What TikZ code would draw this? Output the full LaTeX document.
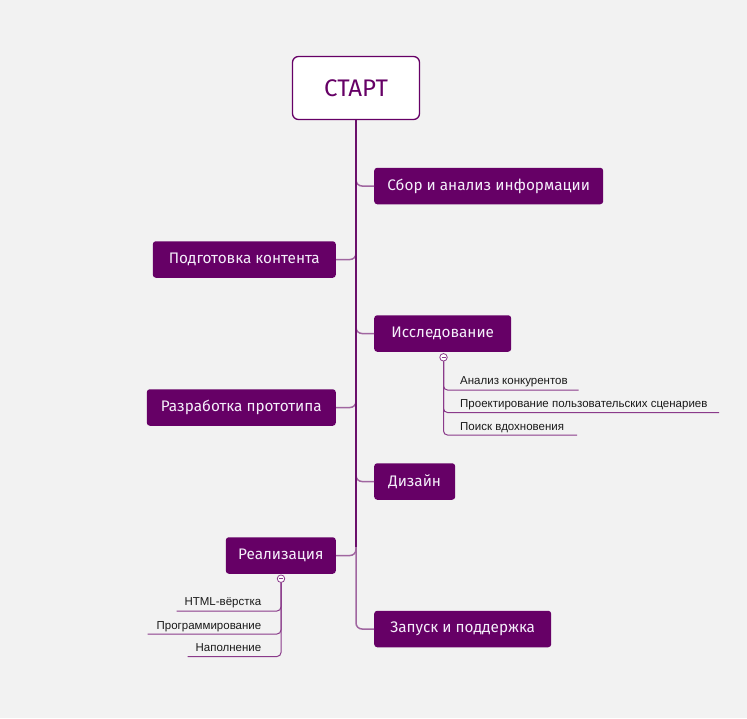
\documentclass[tikz,border=0pt]{standalone}
\usepackage{fontspec}
\setmainfont{Fira Sans}
\newfontfamily\smallfont{Liberation Sans}
\definecolor{bgc}{HTML}{F2F2F2}
\definecolor{nodefill}{HTML}{660066}
\definecolor{trunkc}{HTML}{6B106B}
\definecolor{branchc}{HTML}{A066A0}
\definecolor{subc}{HTML}{8A3A8A}
\definecolor{subtext}{HTML}{1A1A1A}
\definecolor{labeltext}{HTML}{F4EEFA}
\begin{document}
\begin{tikzpicture}[x=1pt,y=-1pt,
  topic/.style={draw=none,fill=nodefill,rounded corners=3pt,text=labeltext,
    font=\fontsize{15.3}{18}\selectfont,minimum height=36.5pt,inner sep=0pt},
  rootbox/.style={draw=nodefill,line width=1.3pt,fill=white,rounded corners=6pt,
    text=nodefill,font=\fontsize{24}{28}\selectfont,minimum width=127pt,minimum height=63pt,inner sep=0pt},
  branch/.style={draw=branchc,line width=1.5pt,rounded corners=6pt},
  trunk/.style={draw=trunkc,line width=2pt},
  subline/.style={draw=subc,line width=1pt,rounded corners=4pt},
  subitem/.style={font=\smallfont\fontsize{11.5}{13}\selectfont,text=subtext,inner sep=0pt},
  toggle/.style={circle,draw=subc,fill=white,line width=0.8pt,minimum size=7.5pt,inner sep=0pt,
    path picture={\draw[subc,line width=0.6pt] ([xshift=-2pt]path picture bounding box.center) -- ([xshift=2pt]path picture bounding box.center);}}
]
\fill[bgc] (0,0) rectangle (747,718);
\useasboundingbox (0,0) rectangle (747,718);

\node[rootbox] (root) at (356,88) {СТАРТ};

\node[topic,anchor=west,minimum width=229pt] (r1) at (374,186) {Сбор и анализ информации};
\node[topic,anchor=west,minimum width=137pt] (r2) at (374,333.5) {Исследование};
\node[topic,anchor=west,minimum width=81pt] (r3) at (374,481.5) {Дизайн};
\node[topic,anchor=west,minimum width=177pt] (r4) at (374,629) {Запуск и поддержка};

\node[topic,anchor=east,minimum width=183pt] (l1) at (336,259.5) {Подготовка контента};
\node[topic,anchor=east,minimum width=189pt] (l2) at (336,407.5) {Разработка прототипа};
\node[topic,anchor=east,minimum width=110pt] (l3) at (336,555.5) {Реализация};

% branches
\draw[branch] (root.south) |- (r1.west);
\draw[branch] (root.south) |- (r2.west);
\draw[branch] (root.south) |- (r3.west);
\draw[branch] (root.south) |- (r4.west);
\draw[branch] (root.south) |- (l1.east);
\draw[branch] (root.south) |- (l2.east);
\draw[branch] (root.south) |- (l3.east);
\coordinate (trunkend) at (356,547);
\draw[trunk] (root.south) -- (trunkend);

% Исследование subtopics
\node[toggle] (t1) at (443.5,357.3) {};
\coordinate (a1) at (578.5,390);
\coordinate (a2) at (719,412.5);
\coordinate (a3) at (577,435);
\draw[subline] (t1.south) |- (a1);
\draw[subline] (t1.south) |- (a2);
\draw[subline] (t1.south) |- (a3);
\node[subitem,anchor=base west] (s1) at (460,384.5) {Анализ конкурентов};
\node[subitem,anchor=base west] (s2) at (460,407) {Проектирование пользовательских сценариев};
\node[subitem,anchor=base west] (s3) at (460,430) {Поиск вдохновения};

% Реализация subtopics
\node[toggle] (t2) at (281,578.7) {};
\coordinate (b1) at (176.5,611);
\coordinate (b2) at (147.5,634);
\coordinate (b3) at (187.5,656.5);
\draw[subline] (t2.south) |- (b1);
\draw[subline] (t2.south) |- (b2);
\draw[subline] (t2.south) |- (b3);
\node[subitem,anchor=base east] (p1) at (261.5,605.5) {HTML-вёрстка};
\node[subitem,anchor=base east] (p2) at (261.5,629) {Программирование};
\node[subitem,anchor=base east] (p3) at (261.5,651) {Наполнение};
\end{tikzpicture}
\end{document}
